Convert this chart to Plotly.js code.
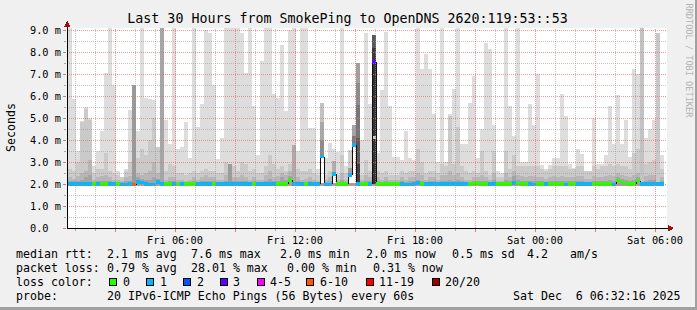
<!DOCTYPE html>
<html><head><meta charset="utf-8">
<script src="https://cdn.plot.ly/plotly-3.0.1.min.js"></script>
<style>
html,body{margin:0;padding:0;background:#f0f0f0;}
#chart{width:697px;height:310px;}
.shapelayer path{shape-rendering:crispEdges;}
</style></head><body><div id="chart"></div>
<script>
// ---------------- DATA ----------------
// 12-minute consolidated bins, first bin starts Fri 2025-12-05 00:39
const binStartUTC = [2025, 11, 5, 0, 39];
const binMinutes = 12;
const rttMin = 1.92; // lower edge of smoke (ms)

// outermost smoke (max of 20 pings), ms
const rttMax = [
 9.3,5.85,3.5,4.85,5.5,5.0,2.8,3.5,4.4,7.05,
 9.3,6.5,2.6,2.3,2.7,5.36,6.5,4.4,9.3,5.9,
 5.88,5.82,3.7,9.3,4.9,3.8,9.3,3.6,3.7,4.8,
 3.2,9.3,4.6,5.65,9.0,8.85,6.5,3.15,4.1,9.3,
 9.3,9.3,9.3,8.85,7.05,9.3,5.55,3.3,7.6,9.3,
 9.3,6.1,5.9,8.3,5.3,9.0,9.3,3.5,9.3,9.3,
 4.55,4.55,2.7,2.05,3.2,3.85,2.05,3.45,9.3,2.8,
 2.05,2.05,2.6,4.0,8.85,5.65,2.05,3.4,6.27,8.9,
 5.55,3.25,3.25,3.1,4.4,3.2,3.1,9.3,7.25,7.9,
 7.25,5.2,3.0,9.3,3.0,5.2,6.3,9.3,3.8,3.8,
 5.67,6.9,3.2,4.5,8.4,8.15,4.7,2.6,2.5,9.3,
 5.55,4.2,9.3,3.0,3.0,5.65,4.7,7.0,2.85,2.7,
 2.85,3.2,3.2,6.1,5.1,2.9,2.75,3.6,3.35,2.6,
 2.6,5.0,2.9,2.9,3.3,5.55,3.8,6.05,3.8,4.9,
 3.25,7.25,7.0,9.3,4.1,4.5,4.9,8.85,3.3
];
// 19th ping
const rttP19 = [
 2.7,2.6,3.0,4.8,5.4,4.9,2.5,2.7,2.7,3.4,
 2.6,2.5,2.4,2.3,2.6,3.0,2.6,3.2,3.6,3.3,
 4.0,5.0,3.7,2.6,2.6,2.9,2.8,2.5,2.5,2.4,
 2.5,2.6,2.5,2.6,2.7,2.6,2.6,2.5,2.5,3.0,
 2.9,2.8,2.6,3.0,2.9,2.6,2.7,2.5,2.5,2.8,
 3.3,2.9,2.7,2.8,2.6,2.9,3.0,2.7,2.6,2.6,
 2.7,2.5,2.4,2.05,2.4,2.6,2.05,2.4,3.3,2.5,
 2.05,2.05,2.6,2.4,3.1,2.6,2.05,2.6,2.5,2.6,
 2.4,2.4,2.4,2.6,2.5,2.6,2.6,3.6,3.0,2.5,
 2.6,2.6,2.5,2.9,2.8,5.1,2.9,4.6,2.8,2.6,
 2.5,2.6,2.5,3.5,2.6,2.4,3.5,2.3,2.3,3.5,
 2.7,3.3,2.8,2.8,2.8,2.8,2.8,2.8,2.7,2.6,
 2.7,2.8,2.8,2.8,2.8,2.7,2.7,2.8,2.8,2.6,
 2.6,2.8,2.7,2.8,2.8,2.9,2.8,2.9,2.8,2.8,
 2.7,3.4,3.6,2.8,2.9,3.0,3.1,2.8,2.7
];
// 18th ping
const rttP18 = [
 2.3,2.25,2.35,2.5,2.6,3.1,2.2,2.3,2.35,2.4,
 2.3,2.2,2.2,2.15,2.3,2.35,2.3,2.5,2.4,2.5,
 2.6,3.0,2.5,2.3,2.2,2.3,2.3,2.2,2.2,2.15,
 2.2,2.3,2.2,2.3,2.4,2.3,2.3,2.2,2.2,2.4,
 2.5,2.3,2.3,2.4,2.3,2.2,2.3,2.2,2.2,2.4,
 2.6,2.3,2.35,2.5,2.4,2.6,2.5,2.3,2.2,2.25,
 2.3,2.2,2.15,2.05,2.2,2.3,2.05,2.2,2.5,2.2,
 2.05,2.05,2.4,2.2,2.4,2.3,2.05,2.3,2.2,2.3,
 2.2,2.2,2.2,2.3,2.2,2.3,2.3,2.5,2.4,2.2,
 2.3,2.3,2.2,2.4,2.4,2.6,2.4,2.5,2.3,2.2,
 2.2,2.3,2.3,2.4,2.3,2.2,2.5,2.15,2.15,2.5,
 2.3,2.6,2.4,2.35,2.3,2.35,2.35,2.3,2.3,2.25,
 2.3,2.35,2.3,2.35,2.3,2.3,2.3,2.35,2.35,2.25,
 2.25,2.35,2.3,2.3,2.35,2.4,2.35,2.5,2.4,2.35,
 2.3,2.4,2.5,2.4,2.35,2.4,2.4,2.35,2.3
];
// 17th ping
const rttP17 = [
 2.12,2.12,2.15,2.2,2.3,2.4,2.1,2.12,2.15,2.15,
 2.12,2.1,2.1,2.1,2.12,2.15,2.15,2.3,2.25,2.2,
 2.2,2.3,2.25,2.15,2.1,2.12,2.12,2.1,2.1,2.1,
 2.1,2.12,2.1,2.12,2.15,2.12,2.12,2.1,2.1,2.15,
 2.2,2.15,2.12,2.15,2.12,2.1,2.12,2.1,2.1,2.15,
 2.25,2.15,2.15,2.3,2.2,2.35,2.25,2.12,2.1,2.1,
 2.12,2.1,2.1,2.05,2.1,2.12,2.05,2.1,2.2,2.1,
 2.05,2.05,2.2,2.1,2.15,2.12,2.05,2.12,2.1,2.12,
 2.1,2.1,2.1,2.12,2.1,2.12,2.12,2.2,2.15,2.1,
 2.12,2.12,2.1,2.15,2.15,2.2,2.15,2.2,2.12,2.1,
 2.1,2.12,2.15,2.15,2.12,2.1,2.2,2.08,2.08,2.2,
 2.12,2.35,2.2,2.15,2.12,2.15,2.15,2.12,2.12,2.1,
 2.12,2.15,2.12,2.15,2.12,2.12,2.12,2.15,2.15,2.1,
 2.1,2.15,2.12,2.12,2.15,2.2,2.15,2.3,2.25,2.2,
 2.15,2.2,2.3,2.2,2.15,2.2,2.2,2.15,2.12
];
// median rtt, ms
const medianRtt = [
 2.0,2.0,2.0,2.0,2.01,2.0,2.0,2.01,2.0,2.0,
 2.0,2.0,2.0,1.98,1.98,2.0,1.97,2.1,2.08,2.0,
 1.99,1.99,2.1,2.0,2.0,2.0,2.0,1.99,2.0,2.0,
 2.0,2.0,2.0,2.0,2.0,2.0,2.0,2.0,2.0,2.0,
 2.0,2.0,2.0,2.0,2.0,2.0,2.0,2.0,2.0,2.0,
 2.0,2.0,2.0,2.0,2.0,2.18,2.0,2.0,2.0,2.0,
 2.0,2.0,2.0,3.24,1.99,1.99,2.45,2.0,2.0,2.0,
 2.41,3.77,2.0,2.0,2.0,2.0,7.55,2.0,2.0,2.0,
 2.0,2.0,2.0,2.0,1.99,1.99,2.0,2.05,2.0,2.0,
 2.0,2.0,2.0,2.0,2.0,2.0,2.0,2.0,2.0,2.0,
 2.0,2.0,2.05,2.0,2.0,2.0,2.0,2.0,2.0,2.0,
 2.0,2.05,2.03,2.0,2.0,2.0,1.99,2.0,2.0,2.0,
 2.0,2.0,2.0,2.0,1.99,2.0,2.0,2.0,2.0,2.0,
 2.0,2.0,2.0,2.0,2.0,2.0,1.99,2.15,2.08,2.02,
 2.0,2.0,2.15,2.0,2.0,2.0,2.0,2.0,2.0
];
// lost pings out of 20
const lossCount = [
 1,1,1,1,1,1,0,1,0,0,
 1,1,0,1,1,1,7,1,1,1,
 1,1,1,1,0,0,1,0,1,0,
 0,0,1,1,1,1,0,1,1,1,
 1,1,1,1,1,1,0,1,1,1,
 1,1,0,0,0,0,1,1,1,0,
 1,1,1,1,1,1,1,0,0,0,
 1,1,1,0,0,1,3,0,0,0,
 0,0,0,1,1,1,1,1,0,1,
 1,1,1,1,1,1,1,1,1,1,
 0,0,0,0,0,1,1,0,0,0,
 0,1,0,0,0,1,1,0,0,1,
 0,0,0,0,1,0,0,1,1,1,
 1,0,0,0,0,0,1,0,0,0,
 0,0,0,1,1,1,1,1,1
];
// dense smoke segments of high-loss / high-spread bins
const darkBins  = [16, 23, 40, 56, 63, 63, 63, 66, 66, 70, 70, 71, 71, 72, 72, 72, 72, 72, 76, 76, 76, 76, 143, 147];
const darkLow   = [1.95,1.95,2.0,2.0,3.3,4.0,4.8,2.45,3.06,2.41,2.75,3.77,4.2,2.0,2.9,4.1,5.6,6.6,2.0,4.05,7.6,8.2,2.0,2.0];
const darkHigh  = [6.52,9.3,2.9,3.78,4.0,4.8,5.7,3.06,3.6,2.75,3.55,4.2,4.7,2.9,4.1,5.6,6.6,7.52,7.5,4.2,8.2,8.76,9.3,8.85];
const darkShade = ['#9a9a9a','#a6a6a6','#9c9c9c','#ababab','#8c8c8c','#a8a8a8','#c2c2c2','#b0b0b0','#dcdcdc',
                   '#a0a0a0','#d0d0d0','#7c7c7c','#a4a4a4','#404040','#5c5c5c','#777777','#8c8c8c','#a0a0a0',
                   '#333333','#c8c8c8','#3a3a3a','#5a5a5a','#c2c2c2','#c8c8c8'];

const lossLabels = ['0','1','2','3','4-5','6-10','11-19','20/20'];
const lossUpper  = [0, 1, 2, 3, 5, 10, 19, 20];
const lossColors = ['#26ff00','#00b8ff','#0059ff','#5e00ff','#ff00ff','#ff5500','#ff0000','#a10000'];

const xTickTimes  = ['2025-12-05 03:00','2025-12-05 06:00','2025-12-05 09:00','2025-12-05 12:00','2025-12-05 15:00',
                     '2025-12-05 18:00','2025-12-05 21:00','2025-12-06 00:00','2025-12-06 03:00','2025-12-06 06:00'];
const xTickLabels = ['','Fri 06:00','','Fri 12:00','','Fri 18:00','','Sat 00:00','','Sat 06:00'];
const yTickVals   = [0,1,2,3,4,5,6,7,8,9];
const yTickLabels = ['0.0\u00a0\u00a0','1.0 m','2.0 m','3.0 m','4.0 m','5.0 m','6.0 m','7.0 m','8.0 m','9.0 m'];

const titleText = 'Last 30 Hours from SmokePing to OpenDNS 2620:119:53::53';
const rttStats  = ['2.1 ms avg','7.6 ms max','2.0 ms min','2.0 ms now','0.5 ms sd','4.2','am/s'];
const lossStats = ['0.79 % avg','28.01 % max','0.00 % min','0.31 % now'];
const probeText = '20 IPv6-ICMP Echo Pings (56 Bytes) every 60s';
const stampText = 'Sat Dec\u00a0\u00a06 06:32:16 2025';

// ---------------- BUILD ----------------
const MONO = 'DejaVu Sans Mono';
const BIN = binMinutes * 60000;
const T0 = Date.UTC(...binStartUTC);
const iso = ms => new Date(ms).toISOString().slice(0,19).replace('T',' ');
const centers = rttMax.map((_, i) => iso(T0 + i*BIN + BIN/2));
const lossColor = n => lossColors[lossUpper.findIndex(u => n <= u)];

function smoke(tops, color) {
  return {type:'bar', x:centers, base:tops.map(() => rttMin), y:tops.map(t => t - rttMin),
          width:BIN, marker:{color:color, line:{width:0}}, hoverinfo:'skip', showlegend:false};
}
// vertical connectors of the median step line (drawn beneath the loss band)
const stepIdx = medianRtt.map((m, i) => i).filter(i => i > 0 && Math.abs(medianRtt[i] - medianRtt[i-1]) > 0.04);
const BAND = 0.078;
const traces = [
  smoke(rttMax, '#dddddd'),
  smoke(rttP19, '#cacaca'),
  smoke(rttP18, '#b7b7b7'),
  smoke(rttP17, '#a4a4a4'),
  {type:'bar', x:darkBins.map(i => centers[i]), base:darkLow, y:darkHigh.map((h, k) => h - darkLow[k]),
   width:BIN, marker:{color:darkShade, line:{width:0}}, hoverinfo:'skip', showlegend:false},
  {type:'bar', x:stepIdx.map(i => iso(T0 + i*BIN)), base:stepIdx.map(i => Math.min(medianRtt[i], medianRtt[i-1])),
   y:stepIdx.map(i => Math.abs(medianRtt[i] - medianRtt[i-1])), width:BIN/4,
   marker:{color:'#111111', line:{width:0}}, hoverinfo:'skip', showlegend:false},
  {type:'bar', x:centers, base:medianRtt.map(m => m - BAND), y:medianRtt.map(() => 2*BAND),
   width:BIN, marker:{color:lossCount.map(lossColor), line:{width:0}}, hoverinfo:'skip', showlegend:false}
];

// pixel helpers (plot area: x 67..667, y 28..228)
const PL = 67, PW = 600, PB = 228, PH = 200;
const px = v => (v - PL) / PW;
const py = v => (PB - v) / PH;

const shapes = [];
const MINOR = 'rgba(150,150,150,0.55)', MAJOR = 'rgba(230,110,110,0.7)';
for (let v = 0.5; v <= 9.0; v += 0.5) {
  const major = Math.abs(v - Math.round(v)) < 1e-9;
  shapes.push({type:'line', xref:'paper', yref:'y', x0:0, x1:1, y0:v, y1:v, layer:'above',
               line:{color: major ? MAJOR : MINOR, width:1, dash:'1px,1px'}});
}
for (let h = 1; h <= 30; h++) {
  const t = iso(Date.UTC(2025, 11, 5, h, 0));
  shapes.push({type:'line', xref:'x', yref:'paper', x0:t, x1:t, y0:0, y1:1, layer:'above',
               line:{color: h % 3 === 0 ? MAJOR : MINOR, width:1, dash:'1px,1px'}});
}
// axis lines and arrows
shapes.push({type:'line', xref:'paper', yref:'paper', x0:px(67), x1:px(669), y0:py(228), y1:py(228), layer:'above', line:{color:'#000', width:1}});
shapes.push({type:'line', xref:'paper', yref:'paper', x0:px(67), x1:px(67), y0:py(228), y1:py(25), layer:'above', line:{color:'#000', width:1}});
const tri = pts => 'M' + pts.map(p => px(p[0]) + ',' + py(p[1])).join('L') + 'Z';
shapes.push({type:'path', xref:'paper', yref:'paper', path:tri([[64,26.5],[70.5,26.5],[67.2,20.5]]), fillcolor:'#9a1010', line:{width:0}, layer:'above'});
shapes.push({type:'path', xref:'paper', yref:'paper', path:tri([[668,225],[668,231.5],[674,228.2]]), fillcolor:'#9a1010', line:{width:0}, layer:'above'});
// frame shading
shapes.push({type:'rect', xref:'paper', yref:'paper', x0:px(695), x1:px(697), y0:py(0), y1:py(310), fillcolor:'#a0a0a0', line:{width:0}, layer:'above'});
shapes.push({type:'rect', xref:'paper', yref:'paper', x0:px(0), x1:px(697), y0:py(307), y1:py(310), fillcolor:'#a0a0a0', line:{width:0}, layer:'above'});
// loss colour swatches
const swatchX = [109, 146, 183, 220, 257, 306, 366, 432];
lossColors.forEach((c, k) => shapes.push({type:'rect', xref:'paper', yref:'paper',
  x0:px(swatchX[k]), x1:px(swatchX[k] + 7), y0:py(285.5), y1:py(278.5), fillcolor:c, line:{color:'#000', width:1}, layer:'above'}));

const ann = [];
function txt(s, x, y, size, extra) {
  ann.push(Object.assign({text:s, x:px(x), y:py(y), xref:'paper', yref:'paper', xanchor:'left', yanchor:'middle',
    showarrow:false, borderpad:0, borderwidth:0, font:{family:MONO, size:size || 11.6, color:'#000'}}, extra || {}));
}
const L1 = 254, L2 = 268, L3 = 282, L4 = 296;
txt('median rtt:', 16, L1);
[107.3, 191.3, 280.3, 366, 452, 527, 570].forEach((x, k) => txt(rttStats[k], x, L1));
txt('packet loss:', 16, L2);
[107.3, 191.3, 287.3, 373].forEach((x, k) => txt(lossStats[k], x, L2));
txt('loss color:', 16, L3);
[123.3, 160, 196.7, 233.3, 270, 320, 379, 445].forEach((x, k) => txt(lossLabels[k], x, L3));
txt('probe:', 16, L4);
txt(probeText, 107.3, L4);
txt(stampText, 513.3, L4);
ann.push({text:'Seconds', x:px(11), y:py(128), xref:'paper', yref:'paper', xanchor:'center', yanchor:'middle',
  textangle:-90, showarrow:false, borderpad:0, borderwidth:0, font:{family:MONO, size:11.6, color:'#000'}});
ann.push({text:'RRDTOOL / TOBI OETIKER', x:px(688.5), y:py(61), xref:'paper', yref:'paper', xanchor:'center', yanchor:'middle',
  textangle:90, showarrow:false, borderpad:0, borderwidth:0, font:{family:MONO, size:8.6, color:'#b4b4b4'}});

const layout = {
  width:697, height:310, autosize:false,
  margin:{l:67, r:30, t:28, b:82, pad:0},
  paper_bgcolor:'#f0f0f0', plot_bgcolor:'#ffffff',
  font:{family:MONO, color:'#000'},
  title:{text:titleText, x:347.5/697, xref:'container', xanchor:'center', y:1 - 18.5/310, yref:'container', yanchor:'middle',
         font:{family:MONO, size:13.3, color:'#000'}},
  barmode:'overlay', bargap:0, showlegend:false,
  xaxis:{type:'date', range:['2025-12-05 00:36','2025-12-06 06:36'], tickmode:'array', tickvals:xTickTimes, ticktext:xTickLabels,
         showgrid:false, zeroline:false, showline:false, ticks:'outside', ticklen:3, tickcolor:'rgba(230,110,110,0.9)',
         tickfont:{family:MONO, size:10.3, color:'#000'}, fixedrange:true,
         minor:{dtick:3600000, tick0:'2025-12-05 00:00', ticks:'outside', ticklen:2, tickcolor:'rgba(150,150,150,0.8)', showgrid:false}},
  yaxis:{range:[0, 200/22], tickmode:'array', tickvals:yTickVals, ticktext:yTickLabels, showgrid:false, zeroline:false, showline:false,
         ticks:'outside', ticklen:3, tickcolor:'rgba(230,110,110,0.9)', tickfont:{family:MONO, size:10.3, color:'#000'}, fixedrange:true,
         minor:{dtick:0.5, ticks:'outside', ticklen:2, tickcolor:'rgba(150,150,150,0.8)', showgrid:false}},
  shapes:shapes, annotations:ann
};
Plotly.newPlot('chart', traces, layout, {displayModeBar:false, staticPlot:true});
</script></body></html>
